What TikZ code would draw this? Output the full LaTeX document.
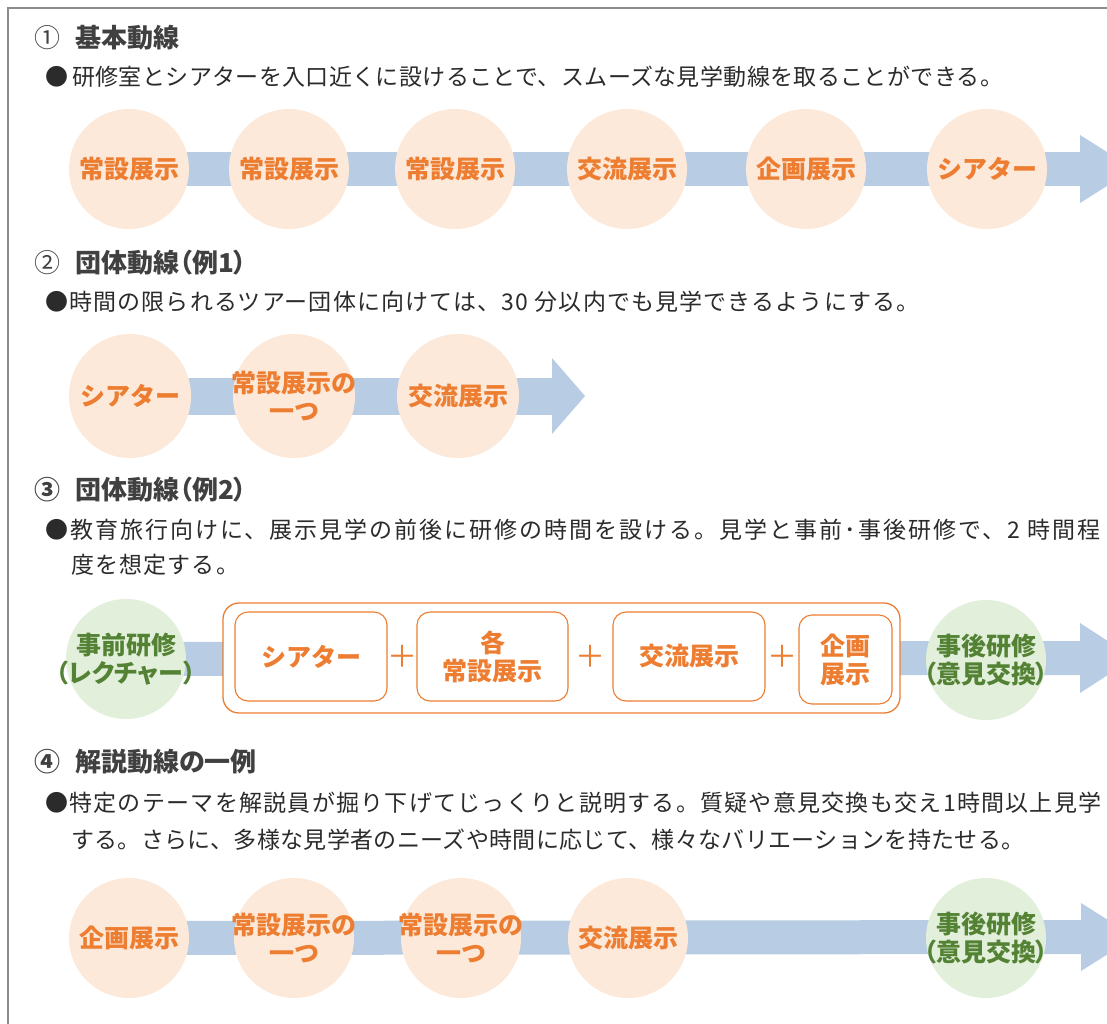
\documentclass[tikz,border=0pt]{standalone}
\usepackage{fontspec}
\setmainfont{Noto Sans CJK JP}
\newfontfamily\jpp{Noto Sans CJK JP}[RawFeature=+palt]
\usetikzlibrary{shapes.geometric,calc,backgrounds}
\definecolor{orn}{HTML}{ED7D31}
\definecolor{peach}{HTML}{FCE9DA}
\definecolor{bandc}{HTML}{B8CCE4}
\definecolor{grnfill}{HTML}{E2EFDA}
\definecolor{grntext}{HTML}{548235}
\definecolor{txt}{HTML}{2B2B2B}
\definecolor{ttl}{HTML}{404040}
\definecolor{framec}{HTML}{8C8C8C}
\begin{document}
\begin{tikzpicture}[x=1pt,y=-1pt,
  stext/.style={text=orn, font=\fontsize{25}{28}\selectfont\bfseries, align=center, inner sep=0pt},
  gtext/.style={text=grntext, font=\jpp\fontsize{25}{28}\selectfont\bfseries, align=center, inner sep=0pt},
  station/.style={ellipse, fill=peach, minimum width=120pt, minimum height=120pt, inner sep=0pt, label={[stext]center:{#1}}},
  tallstation/.style={station={#1}, minimum width=122pt, minimum height=124pt},
  gstation/.style={ellipse, fill=grnfill, minimum width=120pt, minimum height=120pt, inner sep=0pt, label={[gtext]center:{#1}}},
  bandline/.style={draw=bandc, line width=#1},
  bandline/.default=34pt,
  headfill/.style={fill=bandc, draw=none},
  titletext/.style={anchor=west, text=ttl, font=\jpp\fontsize{26}{28}\selectfont\bfseries, inner sep=0pt},
  bodytext/.style={anchor=west, text=txt, font=\fontsize{23}{28}\selectfont, inner sep=0pt},
  outerbox/.style={draw=orn, line width=1.3pt, rounded corners=16pt, fill=white},
  innerbox/.style={draw=orn, line width=1.1pt, rounded corners=13pt, fill=white, text=orn, font=\fontsize{25}{28}\selectfont\bfseries, align=center, inner sep=0pt},
  plussign/.style={text=orn, font=\fontsize{30}{30}\selectfont, inner sep=0pt}
]
\clip (0,0) rectangle (1107,1023);
% frame
\draw[framec, line width=1.2pt] (8,1030) -- (8,8) -- (1115,8);

% ---------- section 1 ----------
\node[titletext] (t1) at (34,38) {\mdseries ①\hspace{15pt}\bfseries 基本動線};
\node[bodytext] (b1) at (45,77) {\addfontfeature{LetterSpace=1.6}●\hspace{4pt}研修室とシアターを入口近くに設けることで、スムーズな見学動線を取ることができる。};

\coordinate (h1) at (1080,169);
\node[station=常設展示] (s11) at (129,169) {};
\node[station=常設展示] (s12) at (289,169) {};
\node[station=常設展示] (s13) at (455,169) {};
\node[station=交流展示] (s14) at (627,169) {};
\node[station=企画展示] (s15) at (806,169) {};
\node[station=シアター] (s16) at (987,169) {};
\begin{scope}[on background layer]
\draw[bandline] (s11.center) -- (h1);
\fill[headfill] (h1) ++(0,-34) -- ++(54,34) -- ++(-54,34) -- cycle;
\end{scope}

% ---------- section 2 ----------
\node[titletext] (t2) at (34,263) {\mdseries ②\hspace{15pt}\bfseries 団体動線（例1）};
\node[bodytext] (b2) at (45,302) {\addfontfeature{LetterSpace=5}●時間の限られるツアー団体に向けては、30 分以内でも見学できるようにする。};

\coordinate (h2) at (552,396);
\node[tallstation=シアター] (s21) at (130,396) {};
\node[tallstation=常設展示の\\一つ] (s22) at (294,396) {};
\node[tallstation=交流展示] (s23) at (458,396) {};
\begin{scope}[on background layer]
\draw[bandline=37pt] (s21.center) -- (h2);
\fill[headfill] (h2) ++(0,-38) -- ++(33,38) -- ++(-33,38) -- cycle;
\end{scope}

% ---------- section 3 ----------
\node[titletext] (t3) at (34,490) {③\hspace{15pt}団体動線（例2）};
\node[bodytext] (b3a) at (45,530) {\addfontfeature{LetterSpace=8.7}●教育旅行向けに、展示見学の前後に研修の時間を設ける。見学と事前･事後研修で、2 時間程};
\node[bodytext] (b3b) at (71,565) {\addfontfeature{LetterSpace=5}度を想定する。};

\coordinate (h3) at (1080,658);
\node[gstation=事前研修\\（レクチャー）] (g31) at (126,659) {};
\node[outerbox, minimum width=677pt, minimum height=110pt] (grp) at (561.5,658) {};
\node[innerbox, minimum width=152pt, minimum height=89pt] (bx1) at (311,656.5) {シアター};
\node[innerbox, minimum width=151pt, minimum height=89pt] (bx2) at (492.5,656.5) {各\\常設展示};
\node[innerbox, minimum width=152pt, minimum height=89pt] (bx3) at (689,656.5) {交流展示};
\node[innerbox, minimum width=93pt, minimum height=89pt] (bx4) at (845.5,659.5) {企画\\展示};
\node[plussign] (p1) at ($ (bx1.east)!0.5!(bx2.west) $) {＋};
\node[plussign] (p2) at ($ (bx2.east)!0.5!(bx3.west) $) {＋};
\node[plussign] (p3) at ($ (bx3.east)!0.5!(bx4.west) + (0,-2) $) {＋};
\node[gstation=事後研修\\（意見交換）] (g32) at (986,660) {};
\begin{scope}[on background layer]
\draw[bandline] (g31.center) -- (h3);
\fill[headfill] (h3) ++(0,-35) -- ++(54,35) -- ++(-54,35) -- cycle;
\end{scope}

% ---------- section 4 ----------
\node[titletext] (t4) at (34,762) {④\hspace{15pt}解説動線の一例};
\node[bodytext] (b4a) at (45,803) {\addfontfeature{LetterSpace=5.5}●特定のテーマを解説員が掘り下げてじっくりと説明する。質疑や意見交換も交え1時間以上見学};
\node[bodytext] (b4b) at (71,840) {\addfontfeature{LetterSpace=1.5}する。さらに、多様な見学者のニーズや時間に応じて、様々なバリエーションを持たせる。};

\coordinate (h4) at (1081,937);
\node[station=企画展示] (s41) at (129,938) {};
\node[station=常設展示の\\一つ] (s42) at (294,938) {};
\node[station=常設展示の\\一つ] (s43) at (461,938) {};
\node[station=交流展示] (s44) at (628,938) {};
\node[gstation=事後研修\\（意見交換）] (g45) at (986,938) {};
\begin{scope}[on background layer]
\draw[bandline] (s41.center) -- (h4);
\fill[headfill] (h4) ++(0,-34) -- ++(54,34) -- ++(-54,34) -- cycle;
\end{scope}
\end{tikzpicture}
\end{document}
